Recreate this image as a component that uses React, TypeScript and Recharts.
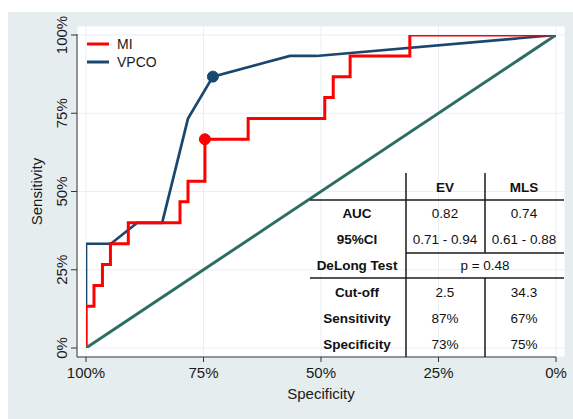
import React from 'react';
import { ComposedChart, Line, XAxis, YAxis, CartesianGrid, ReferenceDot, Legend } from 'recharts';

const FONT = "'Liberation Sans', Arial, Helvetica, sans-serif";

// axis ticks (fractions)
const xTicks = [1, 0.75, 0.5, 0.25, 0];
const yTicks = [0, 0.25, 0.5, 0.75, 1];

// MI curve (step after), specificity vs sensitivity
const miSpecificity = [1, 1, 0.983, 0.965, 0.948, 0.91, 0.8, 0.783, 0.747, 0.655, 0.492, 0.474, 0.438, 0.311, 0];
const miSensitivity = [0, 0.133, 0.2, 0.267, 0.333, 0.4, 0.467, 0.533, 0.667, 0.733, 0.8, 0.867, 0.933, 1, 1];

// VPCO curve
const vpcoSpecificity = [1, 1, 0.947, 0.891, 0.838, 0.783, 0.73, 0.566, 0.51, 0];
const vpcoSensitivity = [0, 0.333, 0.333, 0.4, 0.4, 0.733, 0.867, 0.933, 0.933, 1];

// reference (chance) line
const refSpecificity = [1, 0];
const refSensitivity = [0, 1];

// optimal cut-off points
const miCutoff = { spec: 0.747, sens: 0.667 };
const vpcoCutoff = { spec: 0.73, sens: 0.867 };

// legend
const legendOrder = ['MI', 'VPCO'];

// table
const tableColumns = ['EV', 'MLS'];
const tableRowLabels = ['AUC', '95%CI', 'DeLong Test', 'Cut-off', 'Sensitivity', 'Specificity'];
const evValues = ['0.82', '0.71 - 0.94', '', '2.5', '87%', '73%'];
const mlsValues = ['0.74', '0.61 - 0.88', '', '34.3', '67%', '75%'];
const delongText = 'p = 0.48';

const RED = '#ff0000';
const BLUE = '#1a476f';
const GREEN = '#2c6e63';
const BG = '#e5edef';

const toRows = (xs: number[], ys: number[]) => xs.map((s, i) => ({ spec: s, sens: ys[i] }));
const miData = toRows(miSpecificity, miSensitivity);
const vpcoData = toRows(vpcoSpecificity, vpcoSensitivity);
const refData = toRows(refSpecificity, refSensitivity);

const pct = (v: number) => `${Math.round(v * 100)}%`;

const XTick = (props: any) => {
  const { x, y, payload } = props;
  return (
    <text x={x} y={y + 14} textAnchor="middle" fontSize={15} fontFamily={FONT} fill="#1a1a1a">
      {pct(payload.value)}
    </text>
  );
};

const YTick = (props: any) => {
  const { x, y, payload } = props;
  const tx = x - 2;
  return (
    <text x={tx} y={y} transform={`rotate(-90, ${tx}, ${y})`} textAnchor="middle" fontSize={15} fontFamily={FONT} fill="#1a1a1a">
      {pct(payload.value)}
    </text>
  );
};

const XLabel = (props: any) => {
  const vb = props.viewBox;
  return (
    <text x={vb.x + vb.width / 2} y={387} textAnchor="middle" fontSize={15} fontFamily={FONT} fill="#1a1a1a">
      Specificity
    </text>
  );
};

const YLabel = (props: any) => {
  const vb = props.viewBox;
  const cx = 34;
  const cy = vb.y + vb.height / 2;
  return (
    <text x={cx} y={cy} transform={`rotate(-90, ${cx}, ${cy})`} textAnchor="middle" fontSize={15} fontFamily={FONT} fill="#1a1a1a">
      Sensitivity
    </text>
  );
};

const LegendContent = (props: any) => {
  const items = (props.payload || []).filter((p: any) => legendOrder.includes(p.value));
  items.sort((a: any, b: any) => legendOrder.indexOf(a.value) - legendOrder.indexOf(b.value));
  return (
    <svg width={80} height={40} style={{ display: 'block' }}>
      {items.map((it: any, i: number) => (
        <g key={it.value}>
          <line x1={0} x2={22} y1={10 + i * 18} y2={10 + i * 18} stroke={it.color} strokeWidth={3} />
          <text x={30} y={15 + i * 18} fontSize={14} fontFamily={FONT} fill="#1a1a1a">
            {it.value}
          </text>
        </g>
      ))}
    </svg>
  );
};

const TableOverlay = () => {
  const colLabelX = 349;
  const colX = [437, 516];
  const headerY = 175;
  const rowY0 = 201.3;
  const rowStep = 26.3;
  const lineColor = '#1a1a1a';
  const textProps = { fontFamily: FONT, fontSize: 13.5, fill: '#111', textAnchor: 'middle' as const, dominantBaseline: 'central' as const };
  return (
    <svg width={565} height={407} style={{ position: 'absolute', left: 0, top: 0, pointerEvents: 'none' }}>
      <line x1={398} x2={398} y1={161} y2={345} stroke={lineColor} strokeWidth={1.5} />
      <line x1={477} x2={477} y1={161} y2={241} stroke={lineColor} strokeWidth={1.5} />
      <line x1={477} x2={477} y1={266} y2={345} stroke={lineColor} strokeWidth={1.5} />
      <line x1={302} x2={556} y1={188} y2={188} stroke={lineColor} strokeWidth={1.5} />
      <line x1={398} x2={556} y1={241} y2={241} stroke={lineColor} strokeWidth={1.5} />
      <line x1={302} x2={556} y1={266} y2={266} stroke={lineColor} strokeWidth={1.5} />
      {tableColumns.map((c, i) => (
        <text key={c} x={colX[i]} y={headerY} {...textProps} fontWeight="bold">{c}</text>
      ))}
      {tableRowLabels.map((lab, r) => {
        const y = rowY0 + r * rowStep;
        return (
          <g key={lab}>
            <text x={colLabelX} y={y} {...textProps} fontWeight="bold">{lab}</text>
            {evValues[r] ? <text x={colX[0]} y={y} {...textProps}>{evValues[r]}</text> : null}
            {mlsValues[r] ? <text x={colX[1]} y={y} {...textProps}>{mlsValues[r]}</text> : null}
            {!evValues[r] && !mlsValues[r] ? <text x={(colX[0] + colX[1]) / 2 + 0.5} y={y} {...textProps}>{delongText}</text> : null}
          </g>
        );
      })}
    </svg>
  );
};

export default function App() {
  return (
    <div style={{ position: 'fixed', left: 8, top: 12, width: 565, height: 407, background: BG }}>
      <ComposedChart width={565} height={407} margin={{ top: 14, right: 8, bottom: 0, left: 0 }}>
        <CartesianGrid fill="#ffffff" fillOpacity={1} stroke="#e9eff2" strokeWidth={1} />
        <XAxis
          type="number"
          dataKey="spec"
          domain={[0, 1]}
          reversed
          ticks={xTicks}
          padding={{ left: 9, right: 9 }}
          height={62}
          tickSize={5}
          tickMargin={2}
          stroke="#333"
          axisLine={{ stroke: '#333', strokeDasharray: '479 40' }}
          tickLine={{ stroke: '#333' }}
          tick={<XTick />}
          label={<XLabel />}
          allowDataOverflow
        />
        <YAxis
          type="number"
          dataKey="sens"
          domain={[0, 1]}
          ticks={yTicks}
          padding={{ top: 9, bottom: 9 }}
          width={69}
          tickSize={6}
          tickMargin={2}
          stroke="#333"
          axisLine={{ stroke: '#333', strokeDasharray: '0 8 400' }}
          tickLine={{ stroke: '#333' }}
          tick={<YTick />}
          label={<YLabel />}
          allowDataOverflow
        />
        <Legend
          verticalAlign="middle"
          align="center"
          layout="horizontal"
          wrapperStyle={{ position: 'absolute', top: 22, left: 79, width: 80, height: 40 }}
          content={<LegendContent />}
        />
        <Line
          name="VPCO"
          data={vpcoData}
          dataKey="sens"
          type="linear"
          stroke={BLUE}
          strokeWidth={2.7}
          dot={false}
          activeDot={false}
          isAnimationActive={false}
        />
        <Line
          name="MI"
          data={miData}
          dataKey="sens"
          type="stepAfter"
          stroke={RED}
          strokeWidth={3}
          dot={false}
          activeDot={false}
          isAnimationActive={false}
        />
        <Line
          name="Reference"
          data={refData}
          dataKey="sens"
          type="linear"
          stroke={GREEN}
          strokeWidth={3}
          dot={false}
          activeDot={false}
          legendType="none"
          isAnimationActive={false}
        />
        <ReferenceDot x={vpcoCutoff.spec} y={vpcoCutoff.sens} r={5.5} fill={BLUE} stroke={BLUE} ifOverflow="visible" />
        <ReferenceDot x={miCutoff.spec} y={miCutoff.sens} r={5.5} fill={RED} stroke={RED} ifOverflow="visible" />
      </ComposedChart>
      <TableOverlay />
    </div>
  );
}
